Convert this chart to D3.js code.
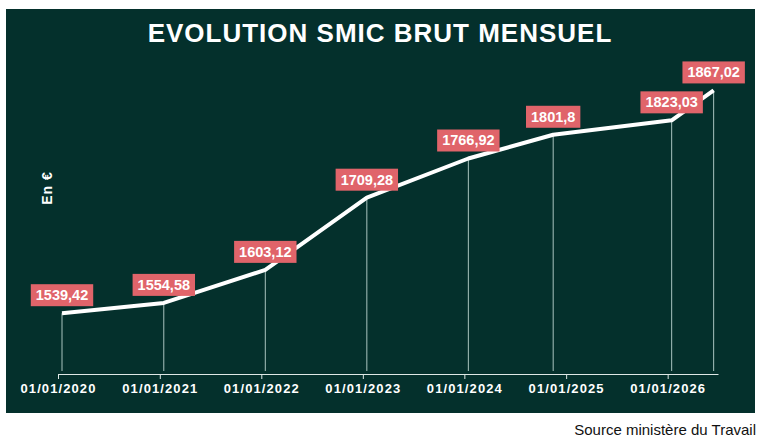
<!DOCTYPE html>
<html>
<head>
<meta charset="utf-8">
<script src="https://cdn.jsdelivr.net/npm/d3@7"></script>
<style>
  html, body { margin: 0; padding: 0; background: #fff; }
  svg { display: block; font-family: "Liberation Sans", Arial, sans-serif; }
</style>
</head>
<body>
<div class="smic-chart"></div>
<script>
// valeurs du smic brut mensuel (en €)
const dates = [ '2020-01-01', '2021-01-01', '2022-01-01', '2023-01-01', '2024-01-01', '2024-11-01', '2026-01-01', '2026-06-01', ];
const values = [ 1539.42, 1554.58, 1603.12, 1709.28, 1766.92, 1801.80, 1823.03, 1867.02, ];
const valueLabels = [ '1539,42', '1554,58', '1603,12', '1709,28', '1766,92', '1801,8', '1823,03', '1867,02', ];
const tickDates = [ '2020-01-01', '2021-01-01', '2022-01-01', '2023-01-01', '2024-01-01', '2025-01-01', '2026-01-01', ];

const W = 771;
const H = 443;
const parse = d3.timeParse('%Y-%m-%d');

const points = dates.map((d, i) => ({ date: parse(d), value: values[i], label: valueLabels[i] }));

const svg = d3.select('.smic-chart').append('svg')
  .attr('width', W)
  .attr('height', H);

// fond vert foncé
svg.append('rect')
  .attr('x', 6)
  .attr('y', 9)
  .attr('width', 749)
  .attr('height', 404)
  .attr('fill', '#04302c');

svg.append('text')
  .attr('x', 380)
  .attr('y', 42)
  .attr('text-anchor', 'middle')
  .attr('fill', '#fff')
  .attr('font-size', 26)
  .attr('font-weight', 'bold')
  .attr('letter-spacing', 1)
  .text('EVOLUTION SMIC BRUT MENSUEL');

// scales
const x = d3.scaleTime()
  .domain([ parse('2020-01-01'), parse('2026-07-01') ])
  .range([ 58, 718 ]);

const y = d3.scaleLinear()
  .domain([ 1450, 1900 ])
  .range([ 374, 68 ]);

// axe x
const axis = svg.append('g')
  .attr('transform', `translate(0,${y(1450)})`)
  .call(d3.axisBottom(x)
    .tickValues(tickDates.map(parse))
    .tickFormat(d3.timeFormat('%d/%m/%Y'))
    .tickSize(5)
    .tickSizeOuter(0)
    .tickPadding(5));

axis.select('.domain').attr('stroke', '#dfe8e6');
axis.selectAll('.tick line').attr('stroke', '#dfe8e6');
axis.selectAll('.tick text')
  .attr('fill', '#fff')
  .attr('font-size', 13)
  .attr('font-weight', 'bold')
  .attr('letter-spacing', 1.1)
  .attr('font-family', '"Liberation Sans", Arial, sans-serif');

svg.append('text')
  .attr('transform', 'translate(52,188) rotate(-90)')
  .attr('text-anchor', 'middle')
  .attr('fill', '#fff')
  .attr('font-size', 14)
  .attr('font-weight', 'bold')
  .attr('letter-spacing', 1)
  .text('En €');

// série (légèrement décalée à droite comme l'original)
const series = svg.append('g').attr('transform', 'translate(4,0)');

series.selectAll('line.drop')
  .data(points)
  .enter()
  .append('line')
    .attr('class', 'drop')
    .attr('x1', d => x(d.date))
    .attr('x2', d => x(d.date))
    .attr('y1', d => y(d.value))
    .attr('y2', y(1450) - 3)
    .attr('stroke', '#a9c4bf')
    .attr('stroke-width', 1);

const line = d3.line()
  .x(d => x(d.date))
  .y(d => y(d.value));

series.append('path')
  .datum(points)
  .attr('d', line)
  .attr('fill', 'none')
  .attr('stroke', '#fff')
  .attr('stroke-width', 4)
  .attr('stroke-linejoin', 'round');

const labels = series.selectAll('g.lab')
  .data(points)
  .enter()
  .append('g')
    .attr('class', 'lab')
    .attr('transform', d => `translate(${x(d.date)},${y(d.value) - 7})`);

labels.append('rect')
  .attr('fill', '#e0646a');

labels.append('text')
  .attr('text-anchor', 'middle')
  .attr('y', -6)
  .attr('fill', '#fff')
  .attr('font-size', 14.5)
  .attr('font-weight', 'bold')
  .text(d => d.label);

labels.each(function() {
  const g = d3.select(this);
  const w = g.select('text').node().getComputedTextLength() + 10;
  g.select('rect')
    .attr('x', -w / 2)
    .attr('y', -22)
    .attr('width', w)
    .attr('height', 22);
});

svg.append('text')
  .attr('x', 756)
  .attr('y', 435)
  .attr('text-anchor', 'end')
  .attr('fill', '#111')
  .attr('font-size', 15)
  .text('Source ministère du Travail');
</script>
</body>
</html>
